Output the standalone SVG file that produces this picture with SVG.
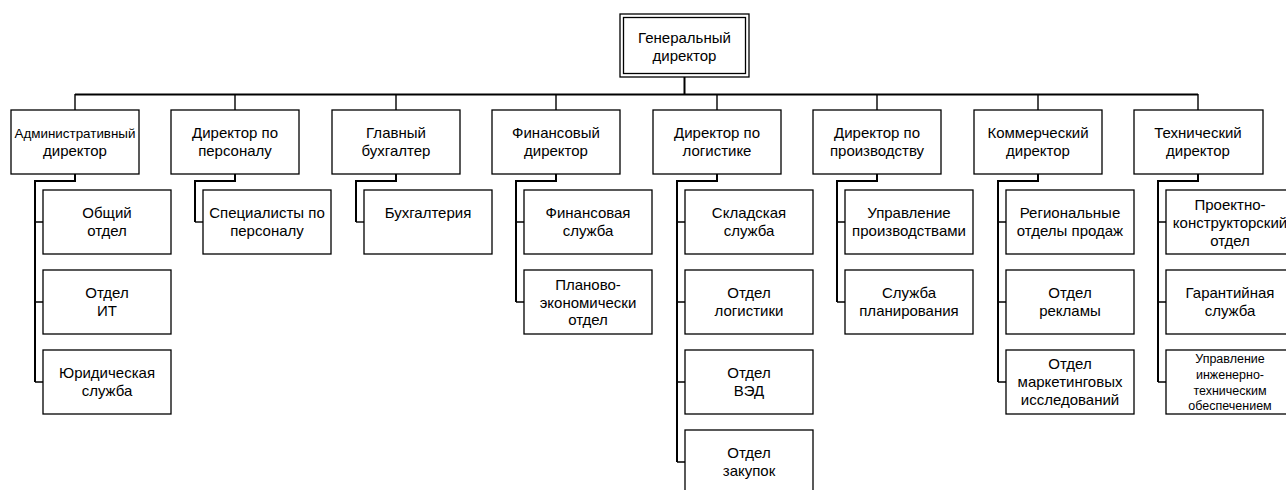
<svg xmlns="http://www.w3.org/2000/svg" width="1286" height="490" viewBox="0 0 1286 490">
  <style>
    .box { fill: #ffffff; stroke: #000000; stroke-width: 1.3; }
    .wire { fill: none; stroke: #000000; stroke-width: 1.4; }
    .trunk { fill: none; stroke: #000000; stroke-width: 2; }
    text { font-family: "Liberation Sans", Arial, sans-serif; font-size: 15px; fill: #000000; text-anchor: middle; }
    .sm { font-size: 13.4px; }
    .xs { font-size: 12.5px; }
  </style>

  <!-- connectors -->
  <g id="connectors">
    <path class="trunk" d="M684.5 77 V94.5"/>
    <path class="trunk" d="M75 94.5 H1198"/>
    <path class="wire" d="M75 94 V110 M235 94 V110 M396 94 V110 M556 94 V110 M717 94 V110 M877 94 V110 M1038 94 V110 M1198 94 V110"/>
    <!-- branch spines: parent stub, jog, spine down to last child -->
    <path class="trunk" d="M75 174 V181 H35 V382"/>
    <path class="trunk" d="M235 174 V181 H195 V222"/>
    <path class="trunk" d="M396 174 V181 H356 V222"/>
    <path class="trunk" d="M556 174 V181 H516 V302"/>
    <path class="trunk" d="M717 174 V181 H677 V462"/>
    <path class="trunk" d="M877 174 V181 H837 V302"/>
    <path class="trunk" d="M1038 174 V181 H998 V382"/>
    <path class="trunk" d="M1198 174 V181 H1158 V382"/>
    <!-- ticks into child boxes -->
    <path class="wire" d="M35 222 H43 M35 302 H43 M35 382 H43"/>
    <path class="wire" d="M195 222 H203"/>
    <path class="wire" d="M356 222 H364"/>
    <path class="wire" d="M516 222 H524 M516 302 H524"/>
    <path class="wire" d="M677 222 H685 M677 302 H685 M677 382 H685 M677 462 H685"/>
    <path class="wire" d="M837 222 H845 M837 302 H845"/>
    <path class="wire" d="M998 222 H1006 M998 302 H1006 M998 382 H1006"/>
    <path class="wire" d="M1158 222 H1166 M1158 302 H1166 M1158 382 H1166"/>
  </g>

  <!-- top -->
  <g id="general-director">
    <rect class="box" x="620" y="14" width="129" height="63"/>
    <rect class="box" x="623.5" y="17.5" width="122" height="56"/>
    <text x="684.5" y="42.5">Генеральный</text>
    <text x="684.5" y="61">директор</text>
  </g>

  <!-- second level -->
  <g id="admin-director">
    <rect class="box" x="11" y="110" width="128" height="64"/>
    <text class="sm" x="75" y="137.5">Административный</text>
    <text x="75" y="156">директор</text>
  </g>
  <g id="hr-director">
    <rect class="box" x="171" y="110" width="128" height="64"/>
    <text x="235" y="137.5">Директор по</text>
    <text x="235" y="156">персоналу</text>
  </g>
  <g id="chief-accountant">
    <rect class="box" x="332" y="110" width="128" height="64"/>
    <text x="396" y="137.5">Главный</text>
    <text x="396" y="156">бухгалтер</text>
  </g>
  <g id="finance-director">
    <rect class="box" x="492" y="110" width="128" height="64"/>
    <text x="556" y="137.5">Финансовый</text>
    <text x="556" y="156">директор</text>
  </g>
  <g id="logistics-director">
    <rect class="box" x="653" y="110" width="128" height="64"/>
    <text x="717" y="137.5">Директор по</text>
    <text x="717" y="156">логистике</text>
  </g>
  <g id="production-director">
    <rect class="box" x="813" y="110" width="128" height="64"/>
    <text x="877" y="137.5">Директор по</text>
    <text x="877" y="156">производству</text>
  </g>
  <g id="commercial-director">
    <rect class="box" x="974" y="110" width="128" height="64"/>
    <text x="1038" y="137.5">Коммерческий</text>
    <text x="1038" y="156">директор</text>
  </g>
  <g id="technical-director">
    <rect class="box" x="1134" y="110" width="129" height="64"/>
    <text x="1198" y="137.5">Технический</text>
    <text x="1198" y="156">директор</text>
  </g>

  <!-- admin branch -->
  <g id="general-dept">
    <rect class="box" x="43" y="190" width="128" height="64"/>
    <text x="107" y="217.5">Общий</text>
    <text x="107" y="236">отдел</text>
  </g>
  <g id="it-dept">
    <rect class="box" x="43" y="270" width="128" height="64"/>
    <text x="107" y="297.5">Отдел</text>
    <text x="107" y="316">ИТ</text>
  </g>
  <g id="legal">
    <rect class="box" x="43" y="350" width="128" height="64"/>
    <text x="107" y="377.5">Юридическая</text>
    <text x="107" y="396">служба</text>
  </g>

  <!-- hr branch -->
  <g id="hr-specialists">
    <rect class="box" x="203" y="190" width="128" height="64"/>
    <text x="267" y="217.5">Специалисты по</text>
    <text x="267" y="236">персоналу</text>
  </g>

  <!-- accounting branch -->
  <g id="accounting">
    <rect class="box" x="364" y="190" width="128" height="64"/>
    <text x="428" y="217.5">Бухгалтерия</text>
  </g>

  <!-- finance branch -->
  <g id="finance-service">
    <rect class="box" x="524" y="190" width="128" height="64"/>
    <text x="588" y="217.5">Финансовая</text>
    <text x="588" y="236">служба</text>
  </g>
  <g id="planning-economics">
    <rect class="box" x="524" y="270" width="128" height="64"/>
    <text x="588" y="290">Планово-</text>
    <text x="588" y="307.5">экономически</text>
    <text x="588" y="325">отдел</text>
  </g>

  <!-- logistics branch -->
  <g id="warehouse">
    <rect class="box" x="685" y="190" width="128" height="64"/>
    <text x="749" y="217.5">Складская</text>
    <text x="749" y="236">служба</text>
  </g>
  <g id="logistics-dept">
    <rect class="box" x="685" y="270" width="128" height="64"/>
    <text x="749" y="297.5">Отдел</text>
    <text x="749" y="316">логистики</text>
  </g>
  <g id="foreign-trade">
    <rect class="box" x="685" y="350" width="128" height="64"/>
    <text x="749" y="377.5">Отдел</text>
    <text x="749" y="396">ВЭД</text>
  </g>
  <g id="purchasing">
    <rect class="box" x="685" y="430" width="128" height="64"/>
    <text x="749" y="457.5">Отдел</text>
    <text x="749" y="476">закупок</text>
  </g>

  <!-- production branch -->
  <g id="production-mgmt">
    <rect class="box" x="845" y="190" width="128" height="64"/>
    <text x="909" y="217.5">Управление</text>
    <text x="909" y="236">производствами</text>
  </g>
  <g id="planning-service">
    <rect class="box" x="845" y="270" width="128" height="64"/>
    <text x="909" y="297.5">Служба</text>
    <text x="909" y="316">планирования</text>
  </g>

  <!-- commercial branch -->
  <g id="regional-sales">
    <rect class="box" x="1006" y="190" width="128" height="64"/>
    <text x="1070" y="217.5">Региональные</text>
    <text x="1070" y="236">отделы продаж</text>
  </g>
  <g id="advertising">
    <rect class="box" x="1006" y="270" width="128" height="64"/>
    <text x="1070" y="297.5">Отдел</text>
    <text x="1070" y="316">рекламы</text>
  </g>
  <g id="marketing-research">
    <rect class="box" x="1006" y="350" width="128" height="64"/>
    <text x="1070" y="369">Отдел</text>
    <text x="1070" y="387">маркетинговых</text>
    <text x="1070" y="405">исследований</text>
  </g>

  <!-- technical branch -->
  <g id="design-dept">
    <rect class="box" x="1166" y="190" width="128" height="64"/>
    <text x="1230" y="209.5">Проектно-</text>
    <text x="1230" y="227.5">конструкторский</text>
    <text x="1230" y="245.5">отдел</text>
  </g>
  <g id="warranty">
    <rect class="box" x="1166" y="270" width="128" height="64"/>
    <text x="1230" y="297.5">Гарантийная</text>
    <text x="1230" y="316">служба</text>
  </g>
  <g id="engineering-support">
    <rect class="box" x="1166" y="350" width="128" height="64"/>
    <text class="xs" x="1230" y="363">Управление</text>
    <text class="xs" x="1230" y="379">инженерно-</text>
    <text class="xs" x="1230" y="394.5">техническим</text>
    <text class="xs" x="1230" y="410">обеспечением</text>
  </g>
</svg>
